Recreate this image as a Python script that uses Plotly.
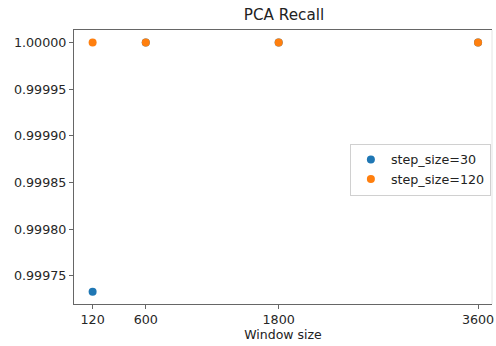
import plotly.graph_objects as go

# Window sizes evaluated and PCA recall for each step size
window_sizes = [120, 600, 1800, 3600]
recall_step30 = [0.999733, 1.0, 1.0, 1.0]
recall_step120 = [1.0, 1.0, 1.0, 1.0]
x_ticks = [120, 600, 1800, 3600]
y_ticks = [0.99975, 0.99980, 0.99985, 0.99990, 0.99995, 1.00000]

BLUE = "#1f77b4"
ORANGE = "#ff7f0e"
FONT = "DejaVu Sans"

fig = go.Figure()
fig.add_trace(go.Scatter(x=window_sizes, y=recall_step30, mode="markers",
                         name="step_size=30",
                         marker=dict(color=BLUE, size=8)))
fig.add_trace(go.Scatter(x=window_sizes, y=recall_step120, mode="markers",
                         name="step_size=120",
                         marker=dict(color=ORANGE, size=8)))

fig.update_layout(
    width=496, height=346,
    margin=dict(l=74, r=2, t=30, b=42),
    paper_bgcolor="white", plot_bgcolor="white",
    font=dict(family=FONT, size=12.7, color="#262626"),
    title=dict(text="PCA Recall", x=(74 + 494) / 2 / 496, xanchor="center",
               y=1 - 15 / 346, yanchor="middle",
               font=dict(size=15.2, color="#222")),
    showlegend=True,
    legend=dict(x=0.66, y=0.585, xanchor="left", yanchor="top",
                bgcolor="white", bordercolor="#d0d0d0", borderwidth=1,
                font=dict(size=12.7, color="#222"),
                itemwidth=30, tracegroupgap=0),
)
fig.update_xaxes(
    range=[-48, 3726], tickvals=x_ticks, ticktext=[str(v) for v in x_ticks],
    ticklabeloverflow="allow",
    showgrid=False, zeroline=False,
    showline=True, linecolor="#666", linewidth=1.2, mirror=True,
    ticks="outside", ticklen=4, tickcolor="#666",
    title=dict(text="Window size", font=dict(size=12.5, color="#222"), standoff=2),
)
fig.update_yaxes(
    range=[0.99972, 1.0000133], tickvals=y_ticks,
    ticktext=[f"{v:.5f}" for v in y_ticks],
    showgrid=False, zeroline=False,
    showline=True, linecolor="#666", linewidth=1.2,
    ticks="outside", ticklen=4, tickcolor="#666",
)
# Light right-hand frame edge
fig.add_shape(type="line", xref="paper", yref="paper", x0=1, x1=1, y0=0, y1=1,
              line=dict(color="#e4e4e4", width=1))

fig.write_html("out.html")
